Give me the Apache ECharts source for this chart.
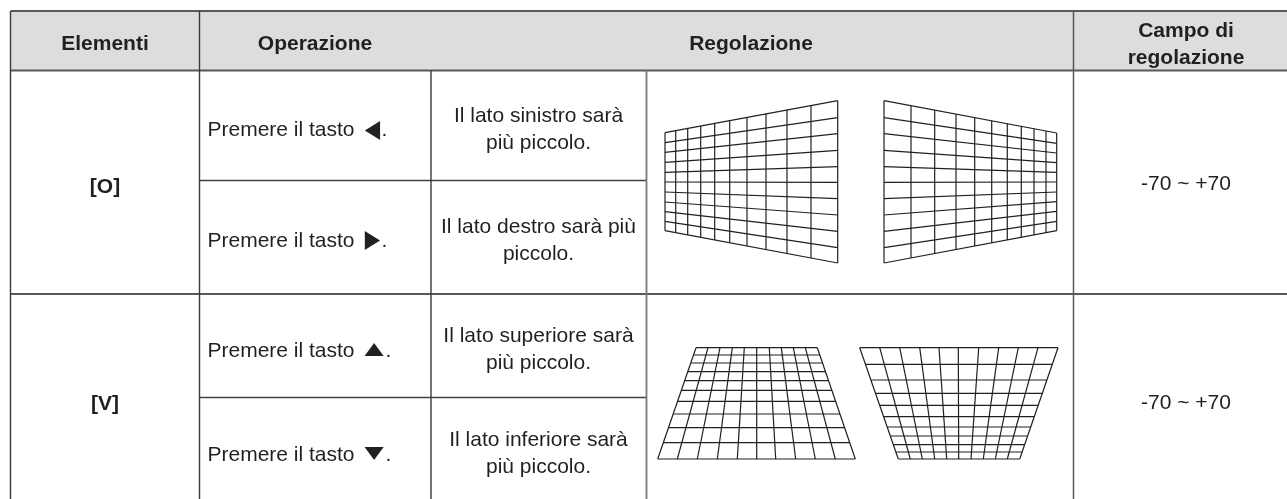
<!DOCTYPE html>
<html><head><meta charset="utf-8">
<style>html,body{margin:0;padding:0;background:#fff}#c{width:1287px;height:499px}</style>
<script src="https://cdn.jsdelivr.net/npm/echarts@6/dist/echarts.min.js"></script>
</head><body><div id="c"></div>
<script>
// ---- table contents ----
const headers = ['Elementi', 'Operazione', 'Regolazione', 'Campo di', 'regolazione'];
const items = ['[O]', '[V]'];
const operationTexts = ['Premere il tasto', 'Premere il tasto', 'Premere il tasto', 'Premere il tasto'];
const arrows = ['◀', '▶', '▲', '▼'];
const stops = ['.', '.', '.', '.'];
const effects = ['Il lato sinistro sarà', 'più piccolo.', 'Il lato destro sarà più', 'piccolo.',
                 'Il lato superiore sarà', 'più piccolo.', 'Il lato inferiore sarà', 'più piccolo.'];
const ranges = ['-70 ~ +70', '-70 ~ +70'];

// ---- keystone grid 1 (left side smaller) ----
const g1Xs = [665,675.7,687.7,700.7,714.7,729.7,747,766,787,811,837.7];
const g1LeftYs = [132.7,142.7,152.3,162.3,172.3,182,192,202,211.7,221.3,230.7];
const g1RightYs = [100.7,117.7,133.7,150.3,166.7,182.3,198.7,215,231.3,247.7,263];
// ---- keystone grid 2 (right side smaller) ----
const g2Xs = [884,911,934.7,956,974.7,991.7,1007.3,1021.3,1034,1046,1056.7];
const g2LeftYs = [100.7,117.7,133.7,150.3,166.7,182.3,198.7,215,231.3,247.7,263];
const g2RightYs = [133,143.3,153,162.7,172.3,182,192,201.7,211.3,221.3,230.7];
// ---- keystone grid 3 (top side smaller) ----
const g3Ys = [347.7,355,363,371.7,380.7,390.3,401.3,414,427.7,442.7,459];
const g3TopXs = [696,708,720,732.3,744.3,756.7,769.3,781.3,793.3,805.3,817.3];
const g3BotXs = [657.7,677.3,697.3,717.3,737.3,756.7,775.7,795.7,815.3,835.3,855.3];
// ---- keystone grid 4 (bottom side smaller) ----
const g4Ys = [347.7,364.3,380,393.3,405.3,416.7,427,436,444.7,452,459];
const g4TopXs = [859.7,879.7,899.7,919.7,939,958.3,978.7,998.7,1018.3,1038,1058];
const g4BotXs = [898.3,910.3,922.3,934.7,946.7,958.7,971,983.3,995.3,1007.3,1019.7];

// ---- table rules ----
const colEdges = [10.5, 199.5, 431, 646.5, 1073.5];
const rowEdges = [11, 70.5, 294];
const subRows = [180.5, 397.5];
const W = 1287, H = 499;

// ---- layout ----
const INK = '#231f20', FONT = '"Liberation Sans", Arial, "DejaVu Sans", sans-serif';
const headAt = [[105,44],[315,44],[751,44],[1186,31],[1186,58]];
const itemAt = [[105,187],[105,404]];
const opAt = [[207.5,130],[207.5,241.5],[207.5,351],[207.5,455]];
const arrowAt = [[372.5,130],[372.5,240],[374,350],[374,454]];
const arrowScale = [[0.8,1],[0.8,1],[1,0.68],[1,0.68]];
const stopAt = [[381.5,130],[381.5,241.5],[385.5,351],[385.5,455]];
const effAt = [[538.5,116],[538.5,143],[538.5,227],[538.5,254],[538.5,336.5],[538.5,363.5],[538.5,440.5],[538.5,467.5]];
const rangeAt = [[1186,184],[1186,403]];

function keystoneV(xs, l, r) {
  const s = [];
  const x0 = xs[0], x1 = xs[xs.length-1];
  l.forEach((ly,i)=> s.push([x0, ly, x1, r[i]]));
  xs.forEach(x=>{
    const t=(x-x0)/(x1-x0);
    s.push([x, l[0]+(r[0]-l[0])*t, x, l[l.length-1]+(r[r.length-1]-l[l.length-1])*t]);
  });
  return s;
}
function keystoneH(ys, top, bot) {
  const s = [];
  const y0 = ys[0], y1 = ys[ys.length-1];
  ys.forEach(y=>{
    const t=(y-y0)/(y1-y0);
    s.push([top[0]+(bot[0]-top[0])*t, y, top[top.length-1]+(bot[bot.length-1]-top[top.length-1])*t, y]);
  });
  top.forEach((x,i)=> s.push([x, y0, bot[i], y1]));
  return s;
}
const segSeries = (data, color, width) => ({
  type:'custom', coordinateSystem:'cartesian2d', silent:true, clip:false, animation:false, data,
  encode:{x:[0,2], y:[1,3]},
  renderItem:(p,api)=>{
    const a=api.coord([api.value(0),api.value(1)]), b=api.coord([api.value(2),api.value(3)]);
    return {type:'line', shape:{x1:a[0],y1:a[1],x2:b[0],y2:b[1]}, style:{stroke:color,lineWidth:width}};
  }
});
const textSeries = (texts, at, align, weight) => ({
  type:'custom', coordinateSystem:'cartesian2d', silent:true, clip:false, animation:false,
  data: texts.map((t,i)=>[at[i][0],at[i][1],t]),
  encode:{x:0,y:1},
  renderItem:(p,api)=>{
    const c=api.coord([api.value(0),api.value(1)]);
    return {type:'text', x:c[0], y:c[1], style:{text:texts[p.dataIndex], fill:INK, align, verticalAlign:'middle',
      font:`${weight} 21px ${FONT}`}};
  }
});
const arrowSeries = () => ({
  type:'custom', coordinateSystem:'cartesian2d', silent:true, clip:false, animation:false,
  data: arrows.map((t,i)=>[arrowAt[i][0],arrowAt[i][1],t]),
  encode:{x:0,y:1},
  renderItem:(p,api)=>{
    const c=api.coord([api.value(0),api.value(1)]), k=arrowScale[p.dataIndex];
    return {type:'text', x:c[0], y:c[1], scaleX:k[0], scaleY:k[1],
      style:{text:arrows[p.dataIndex], fill:INK, align:'center', verticalAlign:'middle',
        font:'normal 25px "DejaVu Sans", sans-serif'}};
  }
});

const chart = echarts.init(document.getElementById('c'), null, {renderer:'canvas'});
chart.setOption({
  animation:false,
  backgroundColor:'#fff',
  grid:{left:0,right:0,top:0,bottom:0,containLabel:false},
  xAxis:{type:'value',min:0,max:W,show:false},
  yAxis:{type:'value',min:0,max:H,inverse:true,show:false},
  series:[
    { type:'custom', coordinateSystem:'cartesian2d', silent:true, clip:false, animation:false,
      data:[[colEdges[0],rowEdges[0],W,rowEdges[1]]], encode:{x:[0,2],y:[1,3]},
      renderItem:(p,api)=>{
        const a=api.coord([api.value(0),api.value(1)]), b=api.coord([api.value(2),api.value(3)]);
        return {type:'rect', shape:{x:a[0],y:a[1],width:b[0]-a[0],height:b[1]-a[1]}, style:{fill:'#dcddde'}};
      }},
    segSeries(rowEdges.map(y=>[colEdges[0],y,W,y]), '#58595b', 1.8),
    segSeries(subRows.map(y=>[colEdges[1],y,colEdges[3],y]), '#414042', 1.3),
    segSeries([colEdges[0],colEdges[1]].map(x=>[x,rowEdges[0],x,H]), '#3a3a3c', 1.4),
    segSeries([[colEdges[2],rowEdges[1],colEdges[2],H]], '#3a3a3c', 1.4),
    segSeries([[colEdges[3],rowEdges[1],colEdges[3],H]], '#77787b', 1.8),
    segSeries([[colEdges[4],rowEdges[0],colEdges[4],H]], '#58595b', 1.5),
    segSeries(keystoneV(g1Xs,g1LeftYs,g1RightYs), '#231f20', 1.2),
    segSeries(keystoneV(g2Xs,g2LeftYs,g2RightYs), '#231f20', 1.2),
    segSeries(keystoneH(g3Ys,g3TopXs,g3BotXs), '#231f20', 1.2),
    segSeries(keystoneH(g4Ys,g4TopXs,g4BotXs), '#231f20', 1.2),
    textSeries(headers, headAt, 'center', 'bold'),
    textSeries(items, itemAt, 'center', 'bold'),
    textSeries(operationTexts, opAt, 'left', 'normal'),
    arrowSeries(),
    textSeries(stops, stopAt, 'left', 'normal'),
    textSeries(effects, effAt, 'center', 'normal'),
    textSeries(ranges, rangeAt, 'center', 'normal')
  ]
});
</script></body></html>
